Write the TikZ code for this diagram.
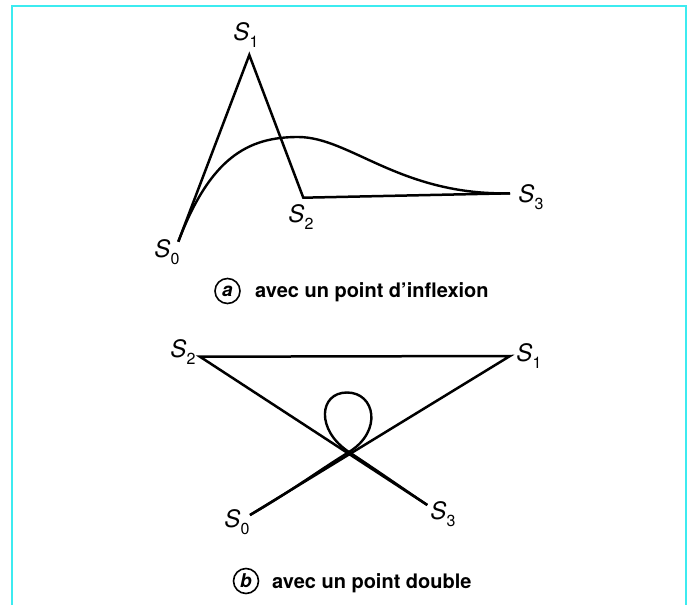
\documentclass[tikz,border=0pt]{standalone}
\usepackage{fontspec}
\setmainfont{TeX Gyre Heros}
\definecolor{framecyan}{RGB}{60,235,240}
\newcommand\vlab[1]{\textit{S}\kern0.3pt\raisebox{-0.3em}{\fontsize{16}{16}\selectfont #1}}
\begin{document}
\begin{tikzpicture}[x=1pt,y=-1pt,
  edge/.style={line width=2.5pt,line join=miter,line cap=butt},
  curve/.style={line width=2.4pt},
  vlabel/.style={inner sep=0pt,font=\fontsize{24}{24}\selectfont},
  caption/.style={inner sep=0pt,anchor=base west,font=\fontsize{20}{20}\selectfont\bfseries},
  tag/.style={circle,draw,line width=1.6pt,inner sep=0pt,minimum size=25pt,font=\fontsize{19}{19}\selectfont\bfseries\itshape}]
\useasboundingbox (0,0) rectangle (693,605);
% frame
\draw[framecyan,line width=1.6pt] (11.7,605) -- (11.7,5.7) -- (685.7,5.7) -- (685.7,605);
% ---------- part a ----------
\coordinate (a0) at (178.3,241.7);
\coordinate (a1) at (249.3,55);
\coordinate (a2) at (303.3,197.7);
\coordinate (a3) at (510,193.3);
\coordinate (apk) at (298,137);
\draw[edge] (a0) -- (a1) -- (a2) -- (a3);
\draw[curve] (a0) .. controls (210.3,157.5) and (248,137) .. (apk)
                  .. controls (350,137) and (400,195.6) .. (a3);
\node[vlabel] (la0) at (167,252) {\vlab{0}};
\node[vlabel] (la1) at (246,35) {\vlab{1}};
\node[vlabel] (la2) at (301,217) {\vlab{2}};
\node[vlabel] (la3) at (531,197) {\vlab{3}};
\node[tag] (taga) at (227.5,291) {a};
\node[caption] (capa) at (255,297.3) {avec un point d’inflexion};
% ---------- part b ----------
\coordinate (b0) at (250,515);
\coordinate (b1) at (510,356);
\coordinate (b2) at (200,356.7);
\coordinate (b3) at (427.3,505);
\coordinate (bx) at (349,452);
\coordinate (btop) at (347,392.5);
\draw[edge] (b0) -- (b1) -- (b2) -- (b3);
\draw[curve] (b0) .. controls (290,492) and (320,469.7) .. (bx)
                  .. controls (383,431) and (375,392.5) .. (btop)
                  .. controls (319,392.5) and (315.5,430) .. (bx)
                  .. controls (380,472.5) and (405,490) .. (b3);
\node[vlabel] (lb0) at (237,522) {\vlab{0}};
\node[vlabel] (lb1) at (529,356) {\vlab{1}};
\node[vlabel] (lb2) at (183,352) {\vlab{2}};
\node[vlabel] (lb3) at (443,514) {\vlab{3}};
\node[tag] (tagb) at (246,581) {b};
\node[caption] (capb) at (272,588) {avec un point double};
\end{tikzpicture}
\end{document}
